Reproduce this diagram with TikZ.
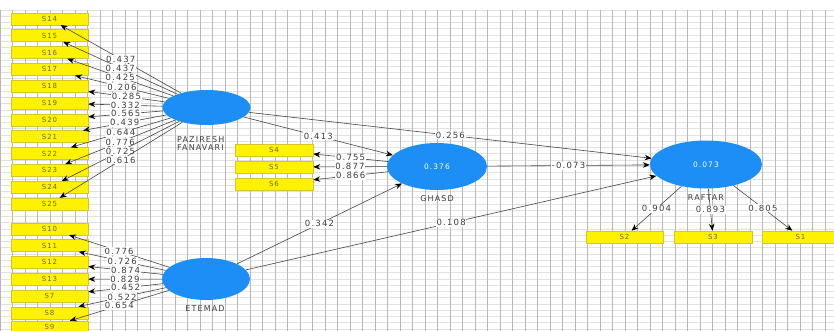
\documentclass[tikz,border=0pt]{standalone}
\usepackage{fontspec}
\setmainfont{DejaVu Sans}
\newfontfamily\spfont[LetterSpace=14]{DejaVu Sans}
\usetikzlibrary{arrows.meta,shapes.geometric}
\definecolor{lvblue}{RGB}{28,142,246}
\definecolor{indborder}{RGB}{212,200,40}
\definecolor{indtext}{RGB}{105,105,60}
\definecolor{linegray}{RGB}{70,70,70}
\definecolor{wtext}{RGB}{60,60,60}
\definecolor{gridv}{RGB}{185,185,185}
\definecolor{gridh}{RGB}{226,226,226}
\begin{document}
\begin{tikzpicture}[x=1pt,y=-1pt,
  lv/.style={ellipse, fill=lvblue, draw=none, inner sep=0pt, text=white,
    font=\spfont\fontsize{7.5}{8}\selectfont},
  ind/.style={rectangle, fill=yellow, draw=indborder, line width=0.5pt,
    minimum width=77pt, minimum height=12pt, inner sep=0pt, text=indtext,
    font=\spfont\fontsize{7}{8}\selectfont},
  conn/.style={draw=linegray, line width=0.6pt,
    -{Stealth[length=7pt,width=5.5pt,color=black]}},
  wt/.style={fill=white, inner sep=0.8pt, text=wtext, midway,
    font=\spfont\fontsize{8.5}{9}\selectfont},
  lvname/.style={text=wtext, inner sep=0pt, font=\spfont\fontsize{8}{7.2}\selectfont},
  gv/.style={draw=gridv, line width=0.6pt},
  gh/.style={draw=gridh, line width=0.5pt}
]
\useasboundingbox (0,0) rectangle (834,331);
\clip (0,0) rectangle (834,331);
\fill[white] (0,0) rectangle (834,331);
% grid
\foreach \j in {0,...,51} \draw[gh] (0,10+\j*6.25) -- (834,10+\j*6.25);
\foreach \i in {0,...,66} \draw[gv] (\i*12.5,10) -- (\i*12.5,331);

% latent variables
\node[lv, minimum width=88pt, minimum height=35pt] (paz) at (206.5,107.5) {};
\node[lv, minimum width=88pt, minimum height=42pt] (etm) at (206,279) {};
\node[lv, minimum width=100pt, minimum height=47pt] (ghasd) at (437,166.5) {0.376};
\node[lv, minimum width=112pt, minimum height=48pt] (raf) at (706,164.5) {0.073};

\node[lvname, anchor=west, align=left] (pazl) at (177,143.5) {PAZIRESH\\FANAVARI};
\node[lvname] (etml) at (205,309) {ETEMAD};
\node[lvname] (ghasdl) at (437,199) {GHASD};
\node[lvname] (rafl) at (706,198) {RAFTAR};

% indicators left top
\node[ind] (s14) at (49.5,18.8) {S14};
\node[ind] (s15) at (49.5,35.6) {S15};
\node[ind] (s16) at (49.5,52.5) {S16};
\node[ind] (s17) at (49.5,69.3) {S17};
\node[ind] (s18) at (49.5,86.2) {S18};
\node[ind] (s19) at (49.5,103) {S19};
\node[ind] (s20) at (49.5,119.9) {S20};
\node[ind] (s21) at (49.5,136.7) {S21};
\node[ind] (s22) at (49.5,153.6) {S22};
\node[ind] (s23) at (49.5,170.4) {S23};
\node[ind] (s24) at (49.5,187.3) {S24};
\node[ind] (s25) at (49.5,204.1) {S25};
% indicators left bottom
\node[ind] (s10) at (49.5,228.8) {S10};
\node[ind] (s11) at (49.5,245.6) {S11};
\node[ind] (s12) at (49.5,262.4) {S12};
\node[ind] (s13) at (49.5,279.2) {S13};
\node[ind] (s7) at (49.5,296) {S7};
\node[ind] (s8) at (49.5,312.8) {S8};
\node[ind] (s9) at (49.5,327) {S9};
% GHASD indicators
\node[ind, minimum width=78pt] (s4) at (274,150) {S4};
\node[ind, minimum width=78pt] (s5) at (274,167) {S5};
\node[ind, minimum width=78pt] (s6) at (274,184) {S6};
% RAFTAR indicators
\node[ind] (s2) at (624.5,237) {S2};
\node[ind, minimum width=78pt] (s3) at (713,237) {S3};
\node[ind] (s1) at (800.5,237) {S1};

% outer loadings PAZIRESH
\draw[conn] (paz) -- node[wt] (w14) {0.437} (s14);
\draw[conn] (paz) -- node[wt] (w15) {0.437} (s15);
\draw[conn] (paz) -- node[wt] (w16) {0.425} (s16);
\draw[conn] (paz) -- node[wt] (w17) {0.206} (s17);
\draw[conn] (paz) -- node[wt] (w18) {0.285} (s18);
\draw[conn] (paz) -- node[wt] (w19) {0.332} (s19);
\draw[conn] (paz) -- node[wt] (w20) {0.565} (s20);
\draw[conn] (paz) -- node[wt] (w21) {0.439} (s21);
\draw[conn] (paz) -- node[wt] (w22) {0.644} (s22);
\draw[conn] (paz) -- node[wt] (w23) {0.776} (s23);
\draw[conn] (paz) -- node[wt] (w24) {0.725} (s24);
\draw[conn] (paz) -- node[wt] (w25) {0.616} (s25);
% outer loadings ETEMAD
\draw[conn] (etm) -- node[wt] (w10) {0.776} (s10);
\draw[conn] (etm) -- node[wt] (w11) {0.726} (s11);
\draw[conn] (etm) -- node[wt] (w12) {0.874} (s12);
\draw[conn] (etm) -- node[wt] (w13) {0.829} (s13);
\draw[conn] (etm) -- node[wt] (w7) {0.452} (s7);
\draw[conn] (etm) -- node[wt] (w8) {0.522} (s8);
\draw[conn] (etm) -- node[wt] (w9) {0.654} (s9);
% GHASD loadings
\draw[conn] (ghasd) -- node[wt] (w4) {0.755} (s4);
\draw[conn] (ghasd) -- node[wt] (w5) {0.877} (s5);
\draw[conn] (ghasd) -- node[wt] (w6) {0.866} (s6);
% RAFTAR loadings
\draw[conn] (raf) -- node[wt] (w2) {0.904} (s2);
\draw[conn] (raf) -- node[wt] (w3) {0.893} (s3);
\draw[conn] (raf) -- node[wt] (w1) {0.805} (s1);

% structural paths
\draw[conn] (paz) -- node[wt] (p1) {0.413} (ghasd);
\draw[conn] (paz) -- node[wt] (p2) {0.256} (raf);
\draw[conn] (ghasd) -- node[wt] (p3) {-0.073} (raf);
\draw[conn] (etm) -- node[wt] (p4) {0.342} (ghasd);
\draw[conn] (etm) -- node[wt] (p5) {0.108} (raf);
\end{tikzpicture}
\end{document}
